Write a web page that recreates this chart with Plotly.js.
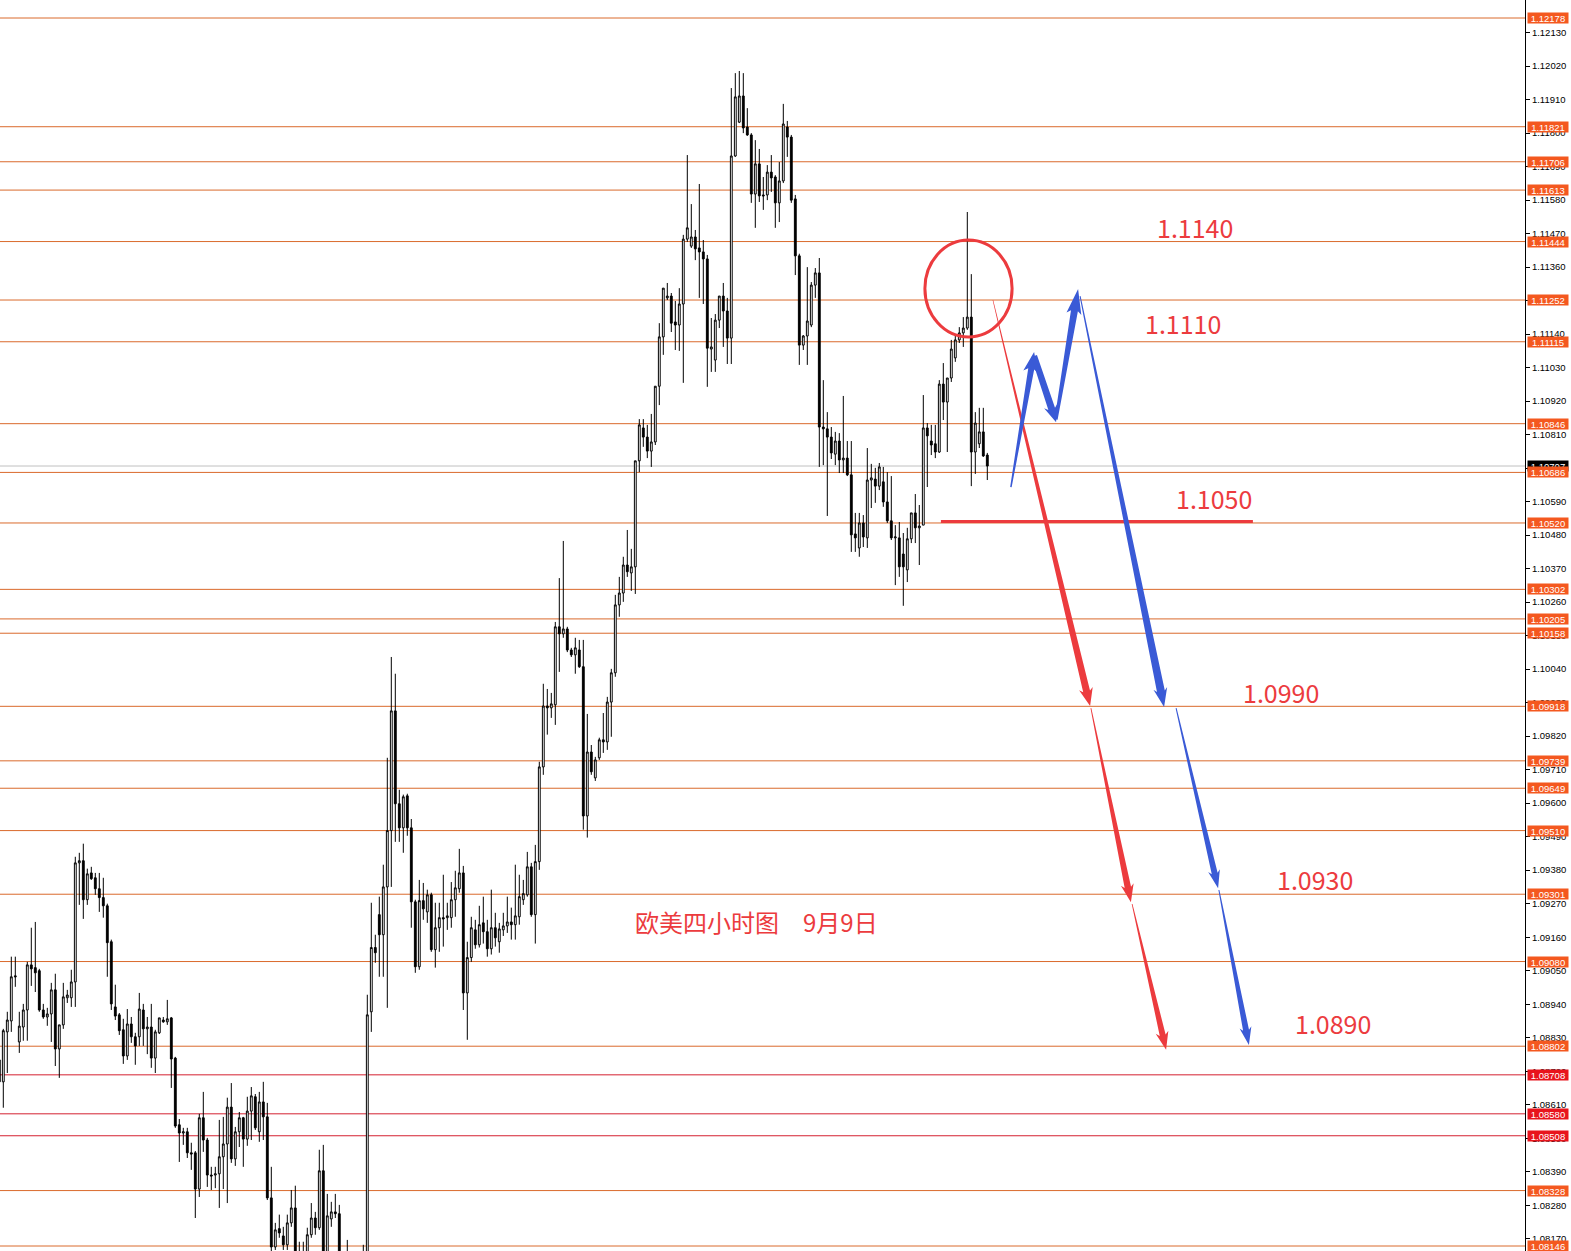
<!DOCTYPE html>
<html><head><meta charset="utf-8">
<script src="https://cdn.plot.ly/plotly-3.0.1.min.js"></script>
<style>html,body{margin:0;padding:0;background:#fff;overflow:hidden}#chart{width:1571px;height:1251px}</style>
</head><body><div id="chart"></div>
<script>
// ---------- DATA (EUR/USD 4H candles) ----------
const openP = [1.08757,1.08685,1.08849,1.08885,1.09033,1.08816,1.08865,1.08921,1.09069,1.09060,
1.09050,1.08921,1.08898,1.08908,1.08987,1.08793,1.08872,1.08961,1.08961,1.09013,
1.09404,1.09411,1.09283,1.09371,1.09355,1.09319,1.09290,1.09263,1.09145,1.08931,
1.08905,1.08856,1.08770,1.08875,1.08833,1.08833,1.08921,1.08859,1.08865,1.08763,
1.08846,1.08888,1.08882,1.08895,1.08763,1.08544,1.08517,1.08521,1.08452,1.08452,
1.08333,1.08567,1.08494,1.08379,1.08379,1.08383,1.08439,1.08481,1.08602,1.08432,
1.08521,1.08567,1.08497,1.08589,1.08636,1.08521,1.08619,1.08570,1.08304,1.08143,
1.08203,1.08179,1.08150,1.08222,1.08271,1.08117,1.08094,1.08094,1.08183,1.08238,
1.08206,1.08393,1.08117,1.08235,1.08258,1.08252,1.08100,1.08074,1.08035,1.08018,
1.08051,1.08035,1.08068,1.08915,1.09126,1.09234,1.09168,1.09325,1.09510,1.09903,
1.09598,1.09519,1.09624,1.09519,1.09276,1.09063,1.09280,1.09243,1.09299,1.09119,
1.09191,1.09224,1.09224,1.09224,1.09283,1.09319,1.09371,1.08977,1.09093,1.09184,
1.09135,1.09207,1.09178,1.09122,1.09191,1.09145,1.09184,1.09197,1.09210,1.09201,
1.09227,1.09283,1.09299,1.09391,1.09234,1.09408,1.09719,1.09919,1.09913,1.09923,
1.10179,1.10156,1.10172,1.10103,1.10087,1.10103,1.10048,1.09558,1.09768,1.09683,
1.09749,1.09808,1.09801,1.09932,1.10028,1.10251,1.10290,1.10382,1.10356,1.10376,
1.10724,1.10832,1.10802,1.10756,1.10786,1.10969,1.11131,1.11259,1.11265,1.11180,
1.11170,1.11239,1.11452,1.11429,1.11459,1.11423,1.11410,1.11387,1.11091,1.11055,
1.11186,1.11265,1.11216,1.11127,1.11725,1.11836,1.11922,1.11820,1.11794,1.11600,
1.11699,1.11597,1.11597,1.11672,1.11656,1.11571,1.11643,1.11820,1.11787,1.11584,
1.11397,1.11104,1.11134,1.11170,1.11301,1.11341,1.10835,1.10829,1.10802,1.10746,
1.10789,1.10727,1.10733,1.10678,1.10484,1.10438,1.10520,1.10471,1.10661,1.10664,
1.10641,1.10655,1.10589,1.10527,1.10471,1.10471,1.10418,1.10366,1.10468,1.10553,
1.10504,1.10513,1.10832,1.10789,1.10780,1.10753,1.10976,1.10917,1.10996,1.11062,
1.11121,1.11144,1.11160,1.11196,1.10753,1.10780,1.10819,1.10743];
const highP = [1.08800,1.08859,1.08915,1.09096,1.09096,1.08915,1.08941,1.09079,1.09191,1.09210,
1.09056,1.08941,1.08928,1.09010,1.09040,1.08872,1.09010,1.08987,1.09053,1.09424,
1.09437,1.09467,1.09385,1.09391,1.09371,1.09371,1.09355,1.09270,1.09152,1.09004,
1.08911,1.08892,1.08924,1.08898,1.08846,1.08977,1.08941,1.08898,1.08941,1.08856,
1.08895,1.08898,1.08954,1.08898,1.08767,1.08563,1.08534,1.08534,1.08485,1.08458,
1.08580,1.08652,1.08501,1.08406,1.08406,1.08560,1.08570,1.08633,1.08681,1.08537,
1.08586,1.08570,1.08636,1.08668,1.08645,1.08652,1.08685,1.08616,1.08406,1.08222,
1.08249,1.08209,1.08249,1.08330,1.08344,1.08160,1.08160,1.08206,1.08287,1.08258,
1.08462,1.08478,1.08317,1.08291,1.08317,1.08281,1.08117,1.08166,1.08094,1.08084,
1.08094,1.08150,1.08971,1.09273,1.09168,1.09293,1.09398,1.09749,1.10080,1.10025,
1.09644,1.09628,1.09631,1.09548,1.09283,1.09348,1.09338,1.09316,1.09306,1.09273,
1.09273,1.09365,1.09273,1.09341,1.09378,1.09450,1.09394,1.09145,1.09227,1.09217,
1.09263,1.09293,1.09217,1.09316,1.09240,1.09207,1.09240,1.09293,1.09257,1.09398,
1.09365,1.09348,1.09440,1.09404,1.09463,1.09736,1.09992,1.09975,1.09962,1.10195,
1.10339,1.10461,1.10179,1.10110,1.10143,1.10136,1.10136,1.09893,1.09791,1.09752,
1.09815,1.09896,1.09949,1.10041,1.10284,1.10343,1.10409,1.10497,1.10435,1.10724,
1.10861,1.10861,1.10842,1.10878,1.10969,1.11176,1.11291,1.11308,1.11275,1.11249,
1.11291,1.11466,1.11728,1.11567,1.11482,1.11633,1.11449,1.11400,1.11193,1.11206,
1.11265,1.11308,1.11259,1.11948,1.11997,1.12004,1.11997,1.11882,1.11800,1.11777,
1.11748,1.11656,1.11695,1.11728,1.11662,1.11705,1.11896,1.11840,1.11794,1.11597,
1.11404,1.11137,1.11360,1.11311,1.11357,1.11390,1.10989,1.10884,1.10835,1.10819,
1.10815,1.10937,1.10789,1.10789,1.10553,1.10553,1.10546,1.10766,1.10714,1.10701,
1.10717,1.10704,1.10687,1.10674,1.10513,1.10523,1.10487,1.10504,1.10553,1.10615,
1.10579,1.10940,1.10848,1.10842,1.10842,1.10989,1.11045,1.10996,1.11121,1.11134,
1.11163,1.11196,1.11541,1.11337,1.10884,1.10898,1.10898,1.10750];
const lowP = [1.08675,1.08600,1.08714,1.08849,1.08997,1.08780,1.08820,1.08820,1.09000,1.08980,
1.08915,1.08892,1.08869,1.08816,1.08737,1.08698,1.08859,1.08944,1.08931,1.08931,
1.09266,1.09220,1.09266,1.09348,1.09299,1.09243,1.09224,1.09030,1.08921,1.08888,
1.08839,1.08744,1.08757,1.08813,1.08741,1.08803,1.08803,1.08776,1.08731,1.08714,
1.08842,1.08879,1.08872,1.08665,1.08534,1.08422,1.08478,1.08435,1.08396,1.08238,
1.08307,1.08455,1.08340,1.08330,1.08336,1.08271,1.08333,1.08287,1.08419,1.08409,
1.08471,1.08406,1.08475,1.08494,1.08527,1.08488,1.08494,1.08297,1.08127,1.08133,
1.08173,1.08133,1.08133,1.08209,1.08094,1.08074,1.08068,1.08084,1.08173,1.08183,
1.08199,1.08094,1.08107,1.08209,1.08238,1.08084,1.08051,1.08018,1.07986,1.07969,
1.08002,1.07969,1.08051,1.08849,1.09076,1.09030,1.09030,1.08928,1.09325,1.09473,
1.09473,1.09437,1.09493,1.09191,1.09043,1.09053,1.09217,1.09207,1.09112,1.09060,
1.09112,1.09129,1.09184,1.09191,1.09227,1.09306,1.08921,1.08823,1.09079,1.09122,
1.09126,1.09139,1.09096,1.09103,1.09129,1.09109,1.09164,1.09174,1.09152,1.09152,
1.09201,1.09266,1.09293,1.09227,1.09139,1.09381,1.09693,1.09825,1.09880,1.09857,
1.10031,1.10143,1.10096,1.10080,1.10025,1.10044,1.09513,1.09487,1.09693,1.09673,
1.09742,1.09765,1.09775,1.09818,1.10015,1.10212,1.10261,1.10343,1.10297,1.10287,
1.10687,1.10770,1.10733,1.10704,1.10776,1.10907,1.11072,1.11252,1.11147,1.11088,
1.11085,1.10980,1.11443,1.11423,1.11383,1.11259,1.11239,1.10967,1.11016,1.11016,
1.11160,1.11098,1.11042,1.11042,1.11722,1.11833,1.11800,1.11791,1.11571,1.11489,
1.11574,1.11548,1.11580,1.11607,1.11489,1.11508,1.11636,1.11722,1.11571,1.11334,
1.11039,1.11088,1.11039,1.11163,1.11259,1.10704,1.10710,1.10543,1.10730,1.10710,
1.10684,1.10684,1.10674,1.10425,1.10425,1.10409,1.10441,1.10438,1.10569,1.10586,
1.10628,1.10573,1.10520,1.10464,1.10316,1.10343,1.10248,1.10326,1.10454,1.10454,
1.10382,1.10513,1.10638,1.10743,1.10733,1.10750,1.10858,1.10753,1.10983,1.11049,
1.11111,1.11098,1.11154,1.10641,1.10681,1.10766,1.10737,1.10661];
const closeP = [1.08685,1.08853,1.08888,1.09030,1.09030,1.08868,1.08921,1.09069,1.09056,1.09043,
1.08921,1.08898,1.08908,1.08987,1.08793,1.08872,1.08964,1.08970,1.09013,1.09404,
1.09411,1.09283,1.09368,1.09352,1.09319,1.09290,1.09263,1.09142,1.08941,1.08901,
1.08853,1.08770,1.08875,1.08833,1.08803,1.08924,1.08859,1.08865,1.08763,1.08849,
1.08895,1.08882,1.08892,1.08760,1.08540,1.08517,1.08521,1.08452,1.08448,1.08333,
1.08567,1.08494,1.08379,1.08376,1.08383,1.08439,1.08481,1.08602,1.08432,1.08521,
1.08567,1.08497,1.08589,1.08639,1.08534,1.08619,1.08570,1.08304,1.08143,1.08199,
1.08189,1.08150,1.08222,1.08271,1.08107,1.08094,1.08084,1.08183,1.08238,1.08206,
1.08393,1.08117,1.08245,1.08258,1.08252,1.08100,1.08068,1.08035,1.08018,1.08051,
1.08035,1.08068,1.08905,1.09126,1.09109,1.09168,1.09325,1.09510,1.09903,1.09598,
1.09519,1.09621,1.09519,1.09276,1.09063,1.09280,1.09253,1.09299,1.09119,1.09191,
1.09224,1.09220,1.09230,1.09283,1.09322,1.09371,1.08977,1.09093,1.09191,1.09135,
1.09201,1.09178,1.09122,1.09191,1.09158,1.09187,1.09197,1.09210,1.09201,1.09230,
1.09293,1.09303,1.09391,1.09234,1.09408,1.09719,1.09919,1.09913,1.09926,1.10179,
1.10156,1.10172,1.10103,1.10087,1.10110,1.10048,1.09558,1.09768,1.09703,1.09742,
1.09808,1.09801,1.09932,1.10028,1.10251,1.10290,1.10382,1.10360,1.10376,1.10724,
1.10842,1.10802,1.10756,1.10786,1.10969,1.11131,1.11291,1.11265,1.11176,1.11170,
1.11239,1.11452,1.11489,1.11459,1.11420,1.11410,1.11387,1.11094,1.11098,1.11186,
1.11265,1.11216,1.11127,1.11725,1.11919,1.11922,1.11817,1.11794,1.11600,1.11699,
1.11594,1.11594,1.11672,1.11653,1.11571,1.11643,1.11830,1.11787,1.11580,1.11397,
1.11104,1.11134,1.11183,1.11301,1.11341,1.10835,1.10829,1.10802,1.10750,1.10789,
1.10727,1.10733,1.10678,1.10481,1.10471,1.10520,1.10474,1.10661,1.10668,1.10641,
1.10704,1.10589,1.10527,1.10471,1.10474,1.10376,1.10376,1.10468,1.10553,1.10504,
1.10510,1.10832,1.10806,1.10776,1.10753,1.10976,1.10917,1.10996,1.11091,1.11121,
1.11144,1.11160,1.11196,1.10753,1.10848,1.10819,1.10740,1.10707];
const candleIndex = openP.map((_, i) => i);

// horizontal support / resistance levels
const orangeLevels = [1.12178,1.11821,1.11706,1.11613,1.11444,1.11252,1.11115,1.10846,1.10686,1.10520,
1.10302,1.10205,1.10158,1.09918,1.09739,1.09649,1.09510,1.09301,1.09080,1.08802,1.08328,1.08146];
const redLevels = [1.08708,1.08580,1.08508];
const currentPrice = 1.10707;

// analyst annotations
const targetTexts = ['1.1140','1.1110','1.1050','1.0990','1.0930','1.0890'];
const targetX = [298.9,295.9,303.7,320.4,328.9,333.4];
const targetY = [1.11492,1.11177,1.10602,1.09965,1.09351,1.08878];
const titleText = '欧美四小时图\u30009月9日';
const titleX = 189.4, titleY = 1.09213;
const supportLine = {x0:235.4, x1:313.4, price:1.10525};
const circleBox = {x0:231.4, x1:253.2, y0:1.11131, y1:1.11449};
// arrows: [start index, start price] -> [tip index, tip price]
const redArrowStart = [[248.4,1.11252],[272.9,1.09912],[283.2,1.09269]];
const redArrowTip   = [[272.7,1.09919],[282.9,1.09275],[291.7,1.08790]];
const blueArrowStart = [[252.9,1.10638],[258.7,1.11068],[264.2,1.10860],[270.2,1.11265],[294.2,1.09912],[304.9,1.09315]];
const blueArrowTip   = [[258.7,1.11081],[264.2,1.10851],[269.7,1.11288],[291.2,1.09916],[304.7,1.09321],[312.4,1.08806]];

// ---------- STYLE / GEOMETRY ----------
const W = 1571, H = 1251, MR = 46;
const xRange = [0.175, 381.425];
const yRange = [1.081296, 1.122371];
const plotW = W - MR, plotH = H;
const ORANGE_LINE = '#DA6A2C', RED_LINE = '#D42030';
const ORANGE_TAG = '#F4581F', RED_TAG = '#E8141C';
const RED = '#EC3B3E', BLUE = '#3A5AD6';
const redArrowStyle = [[0.6,7,15,14],[0.8,6.5,15,13],[0.8,6,15,13]];
const blueArrowStyle = [[1.5,6,17,15],[6,7,14,14],[3,7,22,15],[1,8,16,14],[1,6,15,12],[1,6,15,12]];

function toPx(n, p) {
  return [(n - xRange[0]) / (xRange[1] - xRange[0]) * plotW,
          (yRange[1] - p) / (yRange[1] - yRange[0]) * plotH];
}
function toData(px, py) {
  return [xRange[0] + px / plotW * (xRange[1] - xRange[0]),
          yRange[1] - py / plotH * (yRange[1] - yRange[0])];
}
function arrowPath(s, t, st) {
  const [w0, w1, hl, hw] = st;
  const S = toPx(s[0], s[1]), T = toPx(t[0], t[1]);
  const dx = T[0] - S[0], dy = T[1] - S[1], L = Math.hypot(dx, dy);
  const ux = dx / L, uy = dy / L, nx = -uy, ny = ux;
  const B = [T[0] - ux * hl, T[1] - uy * hl];
  const Wg = [B[0] - ux * 3, B[1] - uy * 3];
  const pts = [
    [S[0] + nx * w0 / 2, S[1] + ny * w0 / 2],
    [B[0] + nx * w1 / 2, B[1] + ny * w1 / 2],
    [Wg[0] + nx * hw / 2, Wg[1] + ny * hw / 2],
    T,
    [Wg[0] - nx * hw / 2, Wg[1] - ny * hw / 2],
    [B[0] - nx * w1 / 2, B[1] - ny * w1 / 2],
    [S[0] - nx * w0 / 2, S[1] - ny * w0 / 2]
  ].map(p => toData(p[0], p[1]));
  return 'M' + pts.map(p => p[0].toFixed(4) + ',' + p[1].toFixed(6)).join(' L') + ' Z';
}

const shapes = [];
orangeLevels.forEach(p => shapes.push({type:'line', xref:'paper', x0:0, x1:1, yref:'y', y0:p, y1:p,
  line:{color:ORANGE_LINE, width:1}, layer:'below'}));
redLevels.forEach(p => shapes.push({type:'line', xref:'paper', x0:0, x1:1, yref:'y', y0:p, y1:p,
  line:{color:RED_LINE, width:1}, layer:'below'}));
shapes.push({type:'line', xref:'paper', x0:0, x1:1, yref:'y', y0:currentPrice, y1:currentPrice,
  line:{color:'#C0C0C0', width:1}, layer:'below'});
shapes.push({type:'circle', xref:'x', yref:'y', x0:circleBox.x0, x1:circleBox.x1, y0:circleBox.y0, y1:circleBox.y1,
  line:{color:RED, width:3}, layer:'above'});
shapes.push({type:'line', xref:'x', yref:'y', x0:supportLine.x0, x1:supportLine.x1, y0:supportLine.price, y1:supportLine.price,
  line:{color:RED, width:3}, layer:'above'});
redArrowStart.forEach((s, i) => shapes.push({type:'path', xref:'x', yref:'y', path:arrowPath(s, redArrowTip[i], redArrowStyle[i]),
  fillcolor:RED, line:{width:0, color:'rgba(0,0,0,0)'}, layer:'above'}));
blueArrowStart.forEach((s, i) => shapes.push({type:'path', xref:'x', yref:'y', path:arrowPath(s, blueArrowTip[i], blueArrowStyle[i]),
  fillcolor:BLUE, line:{width:0, color:'rgba(0,0,0,0)'}, layer:'above'}));

const annotations = [];
const tagFont = {family:'Liberation Sans, Arial, sans-serif', size:9.5, color:'#fff'};
annotations.push({xref:'paper', x:1, xanchor:'left', xshift:2, yref:'y', y:currentPrice, yanchor:'middle',
  text:currentPrice.toFixed(5), showarrow:false, font:tagFont, bgcolor:'#000', borderpad:0, width:40, height:10});
orangeLevels.forEach(p => annotations.push({xref:'paper', x:1, xanchor:'left', xshift:2, yref:'y', y:p, yanchor:'middle',
  text:p.toFixed(5), showarrow:false, font:tagFont, bgcolor:ORANGE_TAG, borderpad:0, width:40, height:10}));
redLevels.forEach(p => annotations.push({xref:'paper', x:1, xanchor:'left', xshift:2, yref:'y', y:p, yanchor:'middle',
  text:p.toFixed(5), showarrow:false, font:tagFont, bgcolor:RED_TAG, borderpad:0, width:40, height:10}));
targetTexts.forEach((t, i) => annotations.push({xref:'x', yref:'y', x:targetX[i], y:targetY[i], xanchor:'center', yanchor:'middle',
  text:t, showarrow:false, font:{family:'Noto Sans CJK SC, Noto Sans, sans-serif', size:25, color:RED}}));
annotations.push({xref:'x', yref:'y', x:titleX, y:titleY, xanchor:'center', yanchor:'middle', text:titleText, showarrow:false,
  font:{family:'Noto Sans CJK SC, sans-serif', size:24, color:RED}});

const trace = {
  type:'candlestick', x:candleIndex, open:openP, high:highP, low:lowP, close:closeP,
  increasing:{line:{color:'#000', width:1}, fillcolor:'#ffffff'},
  decreasing:{line:{color:'#000', width:1}, fillcolor:'#000000'},
  whiskerwidth:0, hoverinfo:'skip', showlegend:false
};

const layout = {
  width:W, height:H, margin:{l:0, r:MR, t:0, b:0, pad:0},
  paper_bgcolor:'#fff', plot_bgcolor:'#fff', showlegend:false, boxgap:0.35,
  xaxis:{range:xRange, showticklabels:false, showgrid:false, zeroline:false, showline:false, ticks:'',
    rangeslider:{visible:false}, fixedrange:true, automargin:false},
  yaxis:{range:yRange, side:'right', tickmode:'linear', tick0:1.0817, dtick:0.0011, tickformat:'.5f',
    ticks:'outside', ticklen:4, tickwidth:1, tickcolor:'#000', showline:true, linecolor:'#000', linewidth:1,
    showgrid:false, zeroline:false, automargin:false, fixedrange:true,
    tickfont:{family:'Liberation Sans, Arial, sans-serif', size:9.5, color:'#000'}},
  shapes:shapes, annotations:annotations, hovermode:false
};

Plotly.newPlot('chart', [trace], layout, {staticPlot:true, displayModeBar:false});
</script>
</body></html>
